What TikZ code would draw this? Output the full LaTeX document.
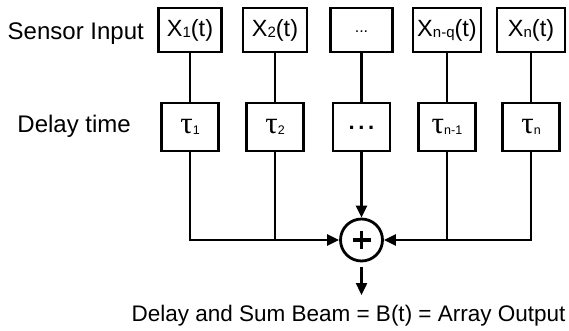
\documentclass[tikz,border=0pt]{standalone}
\usepackage{fontspec}
\setmainfont{Liberation Sans}
\newfontfamily\taufont{Liberation Serif}
\usetikzlibrary{arrows.meta}
\newcommand\xsub[1]{\raisebox{-1.5pt}{\fontsize{15}{15}\selectfont #1}}
\newcommand\tsub[1]{\raisebox{-0.5pt}{\fontsize{12.5}{12.5}\selectfont #1}}
\newcommand\tauglyph{{\taufont\fontsize{31}{31}\selectfont τ}}
\begin{document}
\begin{tikzpicture}[x=1pt,y=-1pt,
  inbox/.style={draw, line width=2.8pt, minimum height=44pt, inner sep=0pt,
    font=\fontsize{23.5}{26}\selectfont},
  dbox/.style={draw, line width=2.8pt, minimum width=57pt, minimum height=48pt,
    inner sep=0pt, font=\fontsize{22}{24}\selectfont},
  sumnode/.style={draw, circle, line width=2.8pt, minimum size=42pt, inner sep=0pt},
  wire/.style={line width=2.4pt},
  arr/.style={wire, -{Triangle[length=12pt,width=11pt]}},
  lab/.style={font=\fontsize{24}{28}\selectfont, inner sep=0pt},
  outlab/.style={font=\fontsize{22.5}{26}\selectfont, inner sep=0pt}
]
\useasboundingbox (0,0) rectangle (569,331);

% sensor input boxes
\node[inbox, minimum width=63pt] (x1) at (190,30) {X\xsub{1}(t)};
\node[inbox, minimum width=64pt] (x2) at (275,30) {X\xsub{2}(t)};
\node[inbox, minimum width=62pt] (x3) at (361.5,30) {\raisebox{-6pt}{\fontsize{16}{16}\selectfont ...}};
\node[inbox, minimum width=68pt] (x4) at (447,30) {X\xsub{n-q}(t)};
\node[inbox, minimum width=68pt] (x5) at (531,30) {X\xsub{n}(t)};

% delay boxes
\node[dbox] (d1) at (190,127) {\tauglyph\tsub{1}};
\node[dbox] (d2) at (275,127) {\tauglyph\tsub{2}};
\node[dbox] (d3) at (361.5,127) {\raisebox{-6pt}{\textbf{.\,.\,.}}};
\node[dbox] (d4) at (447,127) {\tauglyph\tsub{n-1}};
\node[dbox] (d5) at (531,127) {\tauglyph\tsub{n}};

% sum
\node[sumnode] (sum) at (361.5,240) {};
\draw[line width=3.2pt] ([xshift=-9pt]sum.center) -- ([xshift=9pt]sum.center);
\draw[line width=3.2pt] ([yshift=-9pt]sum.center) -- ([yshift=9pt]sum.center);

% labels
\node[lab, anchor=base east] (lsens) at (144,39.5) {Sensor Input};
\node[lab, anchor=base east] (ldelay) at (131,133) {Delay time};
\node[outlab, anchor=base] (out) at (348.5,321) {Delay and Sum Beam = B(t) = Array Output};
\coordinate (outtip) at (361.5,295);

% wires
\foreach \i in {1,...,5} {\draw[wire] (x\i.south) -- (d\i.north);}
\draw[arr] (d1.south) |- (sum.west);
\draw[wire] (d2.south) -- (d2.south |- sum.west);
\draw[arr] (d3.south) -- (sum.north);
\draw[arr] (d5.south) |- (sum.east);
\draw[wire] (d4.south) -- (d4.south |- sum.east);
\draw[arr, shorten <=5pt] (sum.south) -- (outtip);
\end{tikzpicture}
\end{document}
